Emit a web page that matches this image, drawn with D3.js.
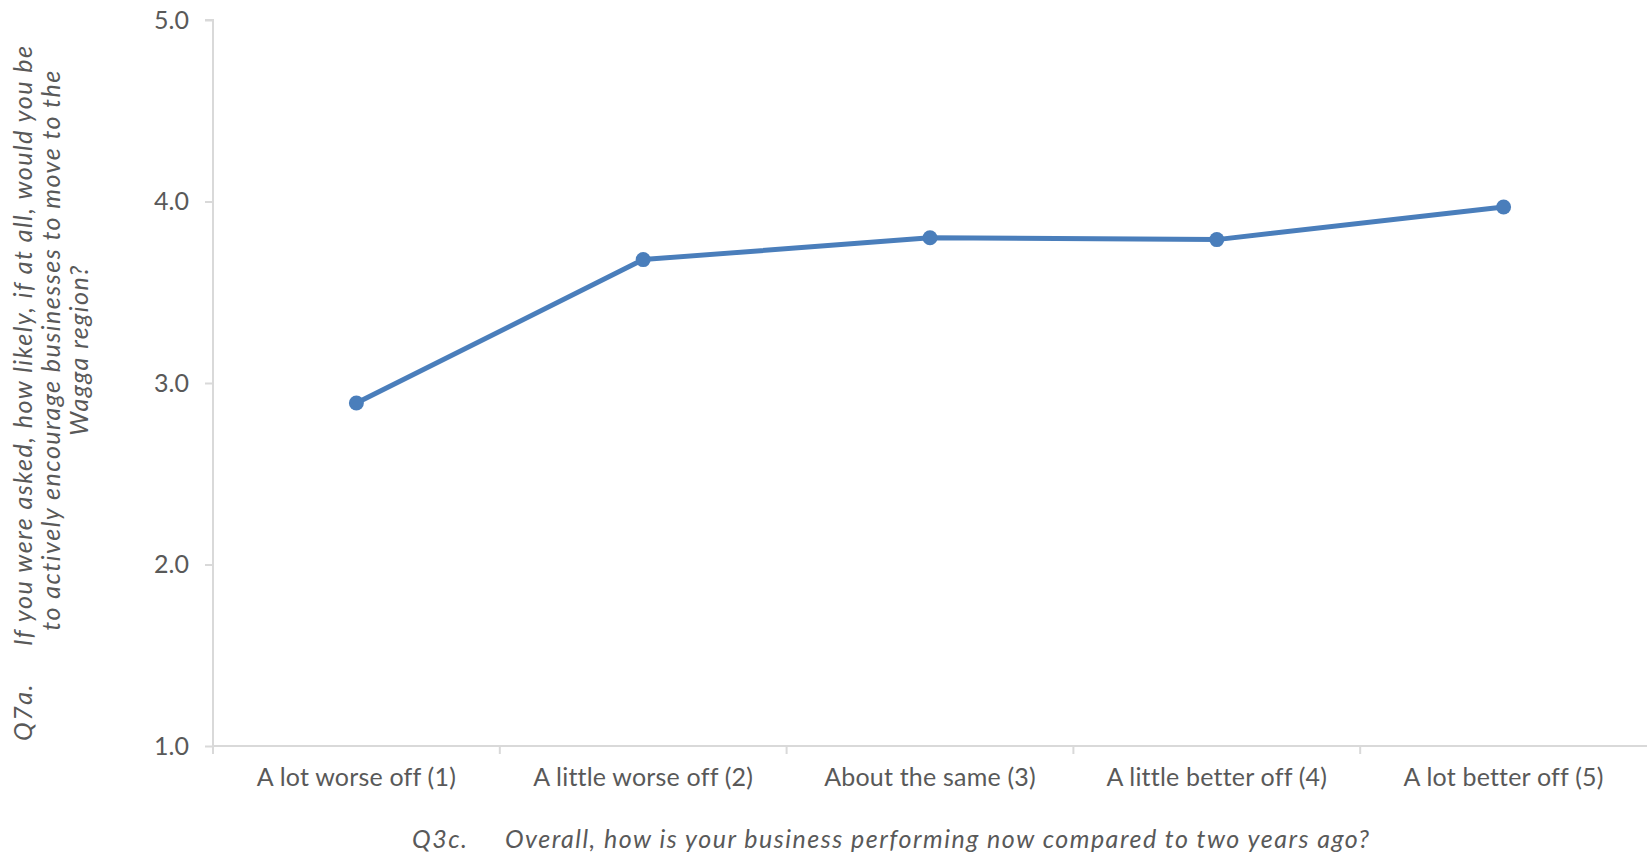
<!DOCTYPE html>
<html>
<head>
<meta charset="utf-8">
<script src="https://cdn.jsdelivr.net/npm/d3@7"></script>
<style>
  html, body { margin: 0; padding: 0; background: #fff; }
  svg { display: block; font-family: Lato, "Open Sans", sans-serif; }
</style>
</head>
<body>
<svg id="chart" width="1647" height="855"></svg>
<script>
// Response categories (Q3c) and mean likelihood scores (Q7a)
const categories = [
  "A lot worse off (1)",
  "A little worse off (2)",
  "About the same (3)",
  "A little better off (4)",
  "A lot better off (5)"
];
const meanScores = [2.89, 3.68, 3.80, 3.79, 3.97];
const yTicks = [1, 2, 3, 4, 5];
const xTitlePrefix = "Q3c.";
const xTitle = "Overall, how is your business performing now compared to two years ago?";
const yTitlePrefix = "Q7a.";
const yTitleLines = [
  "If you were asked, how likely, if at all, would you be",
  "to actively encourage businesses to move to the",
  "Wagga region?"
];

const svg = d3.select("#chart");
const plotLeft = 213, plotRight = 1647, plotTop = 20, plotBottom = 746;
const textColor = "#595959", axisColor = "#d9d9d9", lineColor = "#4a7ebb";
const fontSize = 25;
const titleSpacing = "1.5px";

const x = d3.scaleBand().domain(categories).range([plotLeft, plotRight]).paddingInner(0).paddingOuter(0);
const y = d3.scaleLinear().domain([1, 5]).range([plotBottom, plotTop]);

// Y axis
const yAxis = svg.append("g")
  .attr("transform", `translate(${plotLeft},0)`)
  .call(d3.axisLeft(y).tickValues(yTicks).tickFormat(d3.format(".1f")).tickSize(8).tickPadding(16));
yAxis.select(".domain").attr("stroke", axisColor).attr("stroke-width", 2)
  .attr("d", `M${-8},${plotTop}H0V${plotBottom}`);
yAxis.selectAll(".tick line").attr("stroke", axisColor).attr("stroke-width", 2);
yAxis.selectAll(".tick text").attr("fill", textColor).style("font-size", fontSize + "px");
yAxis.attr("font-family", null).attr("font-size", null);

// X axis: baseline, boundary ticks, category labels
const xAxis = svg.append("g").attr("transform", `translate(0,${plotBottom})`);
xAxis.append("line").attr("x1", plotLeft).attr("x2", plotRight).attr("stroke", axisColor).attr("stroke-width", 2);
xAxis.selectAll("line.tick").data(categories).join("line")
  .attr("class", "tick")
  .attr("x1", d => x(d)).attr("x2", d => x(d))
  .attr("y1", 0).attr("y2", 8)
  .attr("stroke", axisColor).attr("stroke-width", 2);
xAxis.selectAll("text.cat").data(categories).join("text")
  .attr("class", "cat")
  .attr("x", d => x(d) + x.bandwidth() / 2)
  .attr("y", 40)
  .attr("text-anchor", "middle")
  .attr("fill", textColor)
  .style("font-size", fontSize + "px")
  .style("letter-spacing", "0.2px")
  .text(d => d);

// X axis title
const xt = svg.append("text")
  .attr("y", 848)
  .attr("fill", textColor)
  .style("font-size", fontSize + "px")
  .style("font-style", "italic")
  .style("letter-spacing", titleSpacing);
xt.append("tspan").attr("x", 412).text(xTitlePrefix);
xt.append("tspan").attr("x", 505).text(xTitle);

// Y axis title (rotated, three lines)
const yt = svg.append("g").attr("transform", "rotate(-90)")
  .attr("fill", textColor)
  .style("font-size", fontSize + "px")
  .style("font-style", "italic")
  .style("letter-spacing", titleSpacing);
yt.append("text").attr("x", -741).attr("y", 32).text(yTitlePrefix);
yt.selectAll("text.line").data(yTitleLines).join("text")
  .attr("class", "line")
  .attr("x", (d, i) => i === 0 ? -646 : -350)
  .attr("y", (d, i) => 32 + i * 28)
  .attr("text-anchor", (d, i) => i === 0 ? "start" : "middle")
  .text(d => d);

// Series line and markers
const pts = categories.map((c, i) => ({ c, v: meanScores[i] }));
const cx = d => x(d.c) + x.bandwidth() / 2;
svg.append("path")
  .datum(pts)
  .attr("fill", "none")
  .attr("stroke", lineColor)
  .attr("stroke-width", 5)
  .attr("stroke-linejoin", "round")
  .attr("d", d3.line().x(cx).y(d => y(d.v)));
svg.selectAll("circle.pt").data(pts).join("circle")
  .attr("class", "pt")
  .attr("cx", cx).attr("cy", d => y(d.v))
  .attr("r", 7.5)
  .attr("fill", lineColor);
</script>
</body>
</html>
